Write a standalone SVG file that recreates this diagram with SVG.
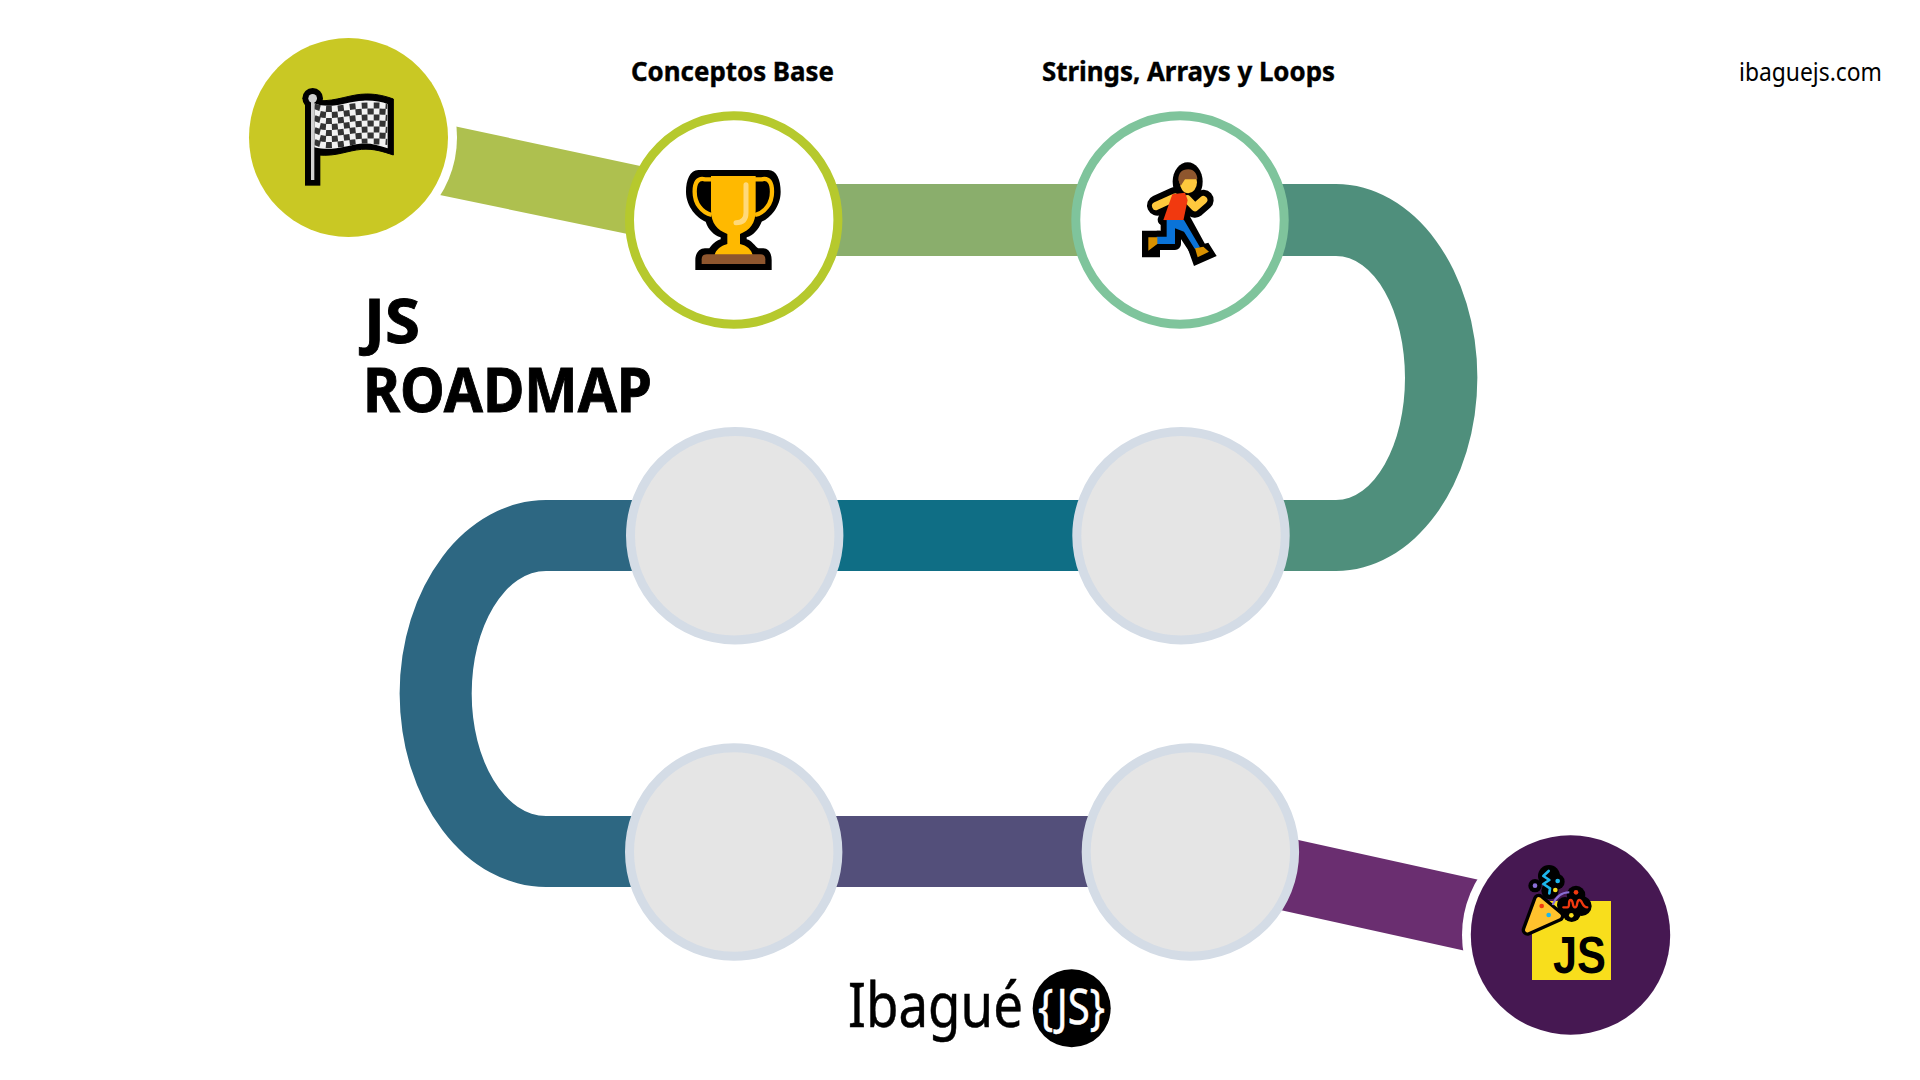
<svg xmlns="http://www.w3.org/2000/svg" width="1920" height="1080" viewBox="0 0 1920 1080">
<defs><clipPath id="flagclip"><path d="M253 250C300 270 350 244 400 242C430 241 455 245 473 252V385C445 375 420 368 390 371C350 376 310 395 253 382Z"/></clipPath></defs>
<style>
text{font-family:"Noto Sans","Open Sans","Liberation Sans",sans-serif;fill:#000}
.lab{font-size:27px;font-weight:700;stroke:#000;stroke-width:.4px}
.title{font-size:61px;font-weight:700;stroke:#000;stroke-width:.9px}
.grey{fill:#E5E5E5;stroke:#D4DCE6;stroke-width:9}
.ring{fill:#fff;stroke-width:9}
.z{fill:none;stroke-linejoin:round}
</style>
<rect width="1920" height="1080" fill="#fff"/>
<g id="connectors">
<path d="M348 103.500L734 186V256L348 176Z" fill="#AEC04F"/>
<rect x="734" y="184" width="446" height="72" fill="#8AAE6C"/>
<path d="M1180 184H1336A141 193 0 0 1 1336 571H1181V500H1336A69 122 0 0 0 1336 256H1180Z" fill="#4F8F7C"/>
<rect x="735" y="500" width="446" height="71" fill="#0F6E85"/>
<path d="M735 500H546A146 193 0 0 0 546 887H734V816H546A74 122 0 0 1 546 571H735Z" fill="#2D6782"/>
<rect x="734" y="816" width="456" height="71" fill="#534F7A"/>
<path d="M1190 816L1570 900V974L1190 890Z" fill="#6A2E70"/>
</g>
<g id="node-start">
<circle cx="348.500" cy="137.500" r="108.500" fill="#fff"/>
<circle cx="348.500" cy="137.500" r="99.500" fill="#C9C824"/>
<g transform="translate(230 20) scale(.33333)">
<rect x="225" y="235" width="46" height="262"/>
<circle cx="248" cy="235" r="31"/>
<path d="M265 242C320 245 360 222 410 222C445 222 470 230 490 237V405C460 395 430 385 395 388C350 392 320 410 265 405Z" stroke="#000" stroke-width="3"/>
<path d="M253 250C300 270 350 244 400 242C430 241 455 245 473 252V385C445 375 420 368 390 371C350 376 310 395 253 382Z" fill="#F2F2F2"/>
<g class="z" clip-path="url(#flagclip)" stroke="#333" stroke-width="18" stroke-dasharray="18 18">
<path d="M253 258C310 283 350 248 473 258"/>
<path d="M253 276C310 301 350 266 473 276" stroke-dashoffset="18"/>
<path d="M253 294C310 319 350 284 473 294"/>
<path d="M253 312C310 337 350 302 473 312" stroke-dashoffset="18"/>
<path d="M253 330C310 355 350 320 473 330"/>
<path d="M253 348C310 373 350 338 473 348" stroke-dashoffset="18"/>
<path d="M253 366C310 391 350 356 473 366"/>
</g>
<rect x="243" y="235" width="10" height="245" fill="#D0D0D0"/>
<circle cx="248" cy="235" r="13" fill="#D0D0D0"/>
</g>
</g>
<g id="node-conceptos">
<circle cx="733.700" cy="220" r="104.200" class="ring" stroke="#B6C92D"/>
<g transform="translate(610 100) scale(.33333)">
<path d="M265 210H475C500 210 512 240 512 275C512 320 480 355 455 365C445 390 430 405 410 412V418C425 420 435 440 445 445H460C475 445 485 460 485 480V510H256V480C256 460 268 445 285 445H298C305 435 320 420 332 418V412C312 405 295 390 287 365C262 355 228 320 228 275C228 240 240 210 265 210Z"/>
<path d="M303 228H437V330C437 370 420 390 390 402V432C410 436 425 450 428 465H314C316 450 335 436 352 432V402C322 390 303 370 303 330Z" fill="#FFB900"/>
<path d="M305 238H285C262 232 254 250 254 275C254 310 275 338 305 345M435 238H455C478 232 486 250 486 275C486 310 465 338 435 345" class="z" stroke="#FFB900" stroke-width="13"/>
<path d="M275 478Q275 463 290 463H451Q466 463 466 478V492H275Z" fill="#8E562E"/>
<path d="M408 254V338Q408 368 378 368" class="z" stroke="#FFD97A" stroke-width="15" stroke-linecap="round"/>
</g>
</g>
<g id="node-strings">
<circle cx="1180" cy="220" r="104.200" class="ring" stroke="#7FC49C"/>
<g transform="translate(1060 100) scale(.33333)">
<ellipse cx="383" cy="245" rx="45" ry="58"/>
<path d="M345 292L292 316M382 295L405 322L430 300" class="z" stroke="#000" stroke-width="62" stroke-linecap="round"/>
<path d="M338 283L375 278L383 300L370 362L310 360Z" stroke="#000" stroke-width="34" stroke-linejoin="round"/>
<path d="M246 392H300V472H246ZM402 498L383 445L445 428L470 468Z"/>
<path d="M320 360H375L420 442L405 448L370 395L345 385V432H292V410H320Z" stroke="#000" stroke-width="36" stroke-linejoin="round"/>
<path d="M345 292L288 318M382 298L405 322L430 300" class="z" stroke="#FFC83D" stroke-width="24" stroke-linecap="round"/>
<path d="M337 283L375 278L383 300L370 362L310 360Z" fill="#F1390F"/>
<path d="M320 360H372L420 442L405 448L372 395L345 385V432H290V410H320Z" fill="#0A73D8"/>
<path d="M265 412H292V432L265 452ZM405 445L430 440L447 455L413 472Z" fill="#D99100"/>
<ellipse cx="385" cy="247" rx="26" ry="33" fill="#FFC83D"/>
<path d="M355 240C355 220 365 208 385 208C402 208 412 222 412 238H375L362 258Z" fill="#8E562E"/>
</g>
</g>
<g id="node-4"><circle cx="734.700" cy="535.700" r="104.200" class="grey"/></g>
<g id="node-3"><circle cx="1181" cy="535.700" r="104.200" class="grey"/></g>
<g id="node-5"><circle cx="733.700" cy="852" r="104.200" class="grey"/></g>
<g id="node-6"><circle cx="1190.400" cy="852" r="104.200" class="grey"/></g>
<g id="node-end">
<circle cx="1570.500" cy="935" r="108.500" fill="#fff"/>
<circle cx="1570.500" cy="935" r="99.700" fill="#461852"/>
<rect x="1532" y="901" width="79" height="79" fill="#F8DE1C"/>
<text x="1553" y="973" style="font-family:'Liberation Sans',sans-serif;font-size:51px;font-weight:700" textLength="53" lengthAdjust="spacingAndGlyphs">JS</text>
<g transform="translate(1450 820) scale(.33333)">
<circle cx="255" cy="197" r="20"/><circle cx="297" cy="168" r="33"/><circle cx="320" cy="185" r="24"/><circle cx="300" cy="212" r="26"/>
<circle cx="378" cy="225" r="28"/><circle cx="395" cy="258" r="30"/><circle cx="365" cy="278" r="28"/><circle cx="345" cy="255" r="24"/>
<path d="M266 238L326 288L232 330Z" stroke="#000" stroke-width="34" stroke-linejoin="round"/>
<path d="M266 238L326 288L232 330Z" fill="#FFC22D" stroke="#FFC22D" stroke-width="14" stroke-linejoin="round"/>
<path d="M308 255Q322 218 358 217" class="z" stroke="#8A6FD6" stroke-width="6"/>
<path d="M296 153L280 168L298 180L280 192L300 205L298 220" class="z" stroke="#1DB6EC" stroke-width="8" stroke-linecap="round"/>
<path d="M340 262H352C362 262 352 240 362 240C372 240 365 262 375 262C385 262 378 240 388 240C398 240 395 262 412 262" class="z" stroke="#F1390F" stroke-width="7" stroke-linecap="round"/>
<circle cx="255" cy="197" r="7" fill="#8A6FD6"/><circle cx="323" cy="183" r="7" fill="#1DB6EC"/><circle cx="316" cy="210" r="7" fill="#F8DE1C"/><circle cx="378" cy="217" r="7" fill="#F1390F"/><circle cx="364" cy="286" r="7" fill="#F8DE1C"/>
<circle cx="275" cy="258" r="7" fill="#F1390F"/><circle cx="296" cy="285" r="7" fill="#1DB6EC"/>
</g>
</g>
<g id="labels">
<text class="lab" x="631" y="81" textLength="203" lengthAdjust="spacingAndGlyphs">Conceptos Base</text>
<text class="lab" x="1042" y="81" textLength="293" lengthAdjust="spacingAndGlyphs">Strings, Arrays y Loops</text>
<text x="1739" y="81" style="font-size:25px" textLength="143" lengthAdjust="spacingAndGlyphs">ibaguejs.com</text>
<text class="title" x="364" y="343" textLength="56" lengthAdjust="spacingAndGlyphs">JS</text>
<text class="title" x="363" y="412" textLength="289" lengthAdjust="spacingAndGlyphs">ROADMAP</text>
</g>
<g id="logo">
<text x="848" y="1027" style="font-size:62px;stroke:#000;stroke-width:.5px" textLength="175" lengthAdjust="spacingAndGlyphs">Ibagué</text>
<circle cx="1071.700" cy="1008.300" r="39"/>
<text x="1038" y="1024" style="font-size:50px;fill:#fff;stroke:#fff;stroke-width:.5px" textLength="67" lengthAdjust="spacingAndGlyphs">{JS}</text>
</g>
</svg>
